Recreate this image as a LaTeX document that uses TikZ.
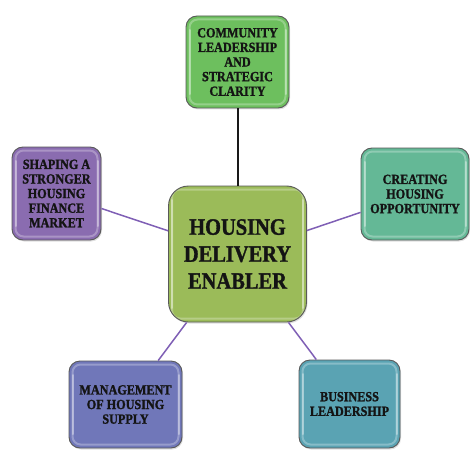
\documentclass[tikz,border=0pt]{standalone}
\usepackage{fontspec}
\setmainfont[FakeStretch=0.87, BoldFeatures={FakeBold=1.3}]{Liberation Serif}
\usetikzlibrary{shadows}

\definecolor{topgreen}{HTML}{6DBF5E}
\definecolor{hubgreen}{HTML}{9BBB59}
\definecolor{violet}{HTML}{8A6CB0}
\definecolor{seagreen}{HTML}{64B896}
\definecolor{slateblue}{HTML}{7077B9}
\definecolor{steelteal}{HTML}{5AA3B3}
\definecolor{linkpurple}{HTML}{7F5FB5}
\definecolor{inktext}{HTML}{141414}

\tikzset{
  card/.style={
    draw=black!65, line width=0.9pt, rounded corners=11pt,
    align=center, text=inktext, inner sep=0pt,
    font=\fontsize{14}{14.6}\selectfont\bfseries,
    drop shadow={opacity=0.25, shadow xshift=1pt, shadow yshift=-1.5pt},
    path picture={
      % soft bevel highlight just inside the border
      \draw[white, opacity=0.28, line width=2pt, rounded corners=8pt]
        ([shift={(3.5pt,-3.5pt)}]path picture bounding box.north west) rectangle
        ([shift={(-3.5pt,3.5pt)}]path picture bounding box.south east);
      \draw[white, opacity=0.35, line width=2pt, line cap=round]
        ([shift={(3.5pt,-14pt)}]path picture bounding box.north west) --
        ([shift={(3.5pt,14pt)}]path picture bounding box.south west);
      \draw[white, opacity=0.35, line width=2pt, line cap=round]
        ([shift={(-3.5pt,-14pt)}]path picture bounding box.north east) --
        ([shift={(-3.5pt,14pt)}]path picture bounding box.south east);
    }
  },
  hub/.style={card, rounded corners=20pt,
    font=\fontsize{23.5}{27}\selectfont\bfseries},
  link/.style={draw=linkpurple, line width=1.5pt},
  stem/.style={draw=black!90, line width=2pt}
}

\begin{document}
\begin{tikzpicture}[x=1pt, y=-1pt]
  \useasboundingbox (0,0) rectangle (470,449);

  % outer ring of enablers
  \node[card, fill=topgreen, minimum width=103pt, minimum height=92pt]
    (top) at (237.5,62) {COMMUNITY\\LEADERSHIP\\AND\\STRATEGIC\\CLARITY};
  \node[card, fill=violet, minimum width=89pt, minimum height=93pt]
    (left) at (56.5,193.5) {SHAPING A\\STRONGER\\HOUSING\\FINANCE\\MARKET};
  \node[card, fill=seagreen, minimum width=108pt, minimum height=92pt]
    (right) at (415,194) {CREATING\\HOUSING\\OPPORTUNITY};
  \node[card, fill=slateblue, minimum width=113pt, minimum height=87pt]
    (botleft) at (125.5,404.5) {MANAGEMENT\\OF HOUSING\\SUPPLY};
  \node[card, fill=steelteal, minimum width=101pt, minimum height=88pt]
    (botright) at (349.5,404) {BUSINESS\\LEADERSHIP};

  % central hub
  \node[hub, fill=hubgreen, minimum width=138pt, minimum height=136pt]
    (hub) at (237.5,254) {HOUSING\\DELIVERY\\ENABLER};

  % spokes
  \draw[stem] (top) -- (hub);
  \draw[link] (left) -- (hub);
  \draw[link] (right) -- (hub);
  \draw[link] (botleft) -- (hub);
  \draw[link] (botright) -- (hub);
\end{tikzpicture}
\end{document}
